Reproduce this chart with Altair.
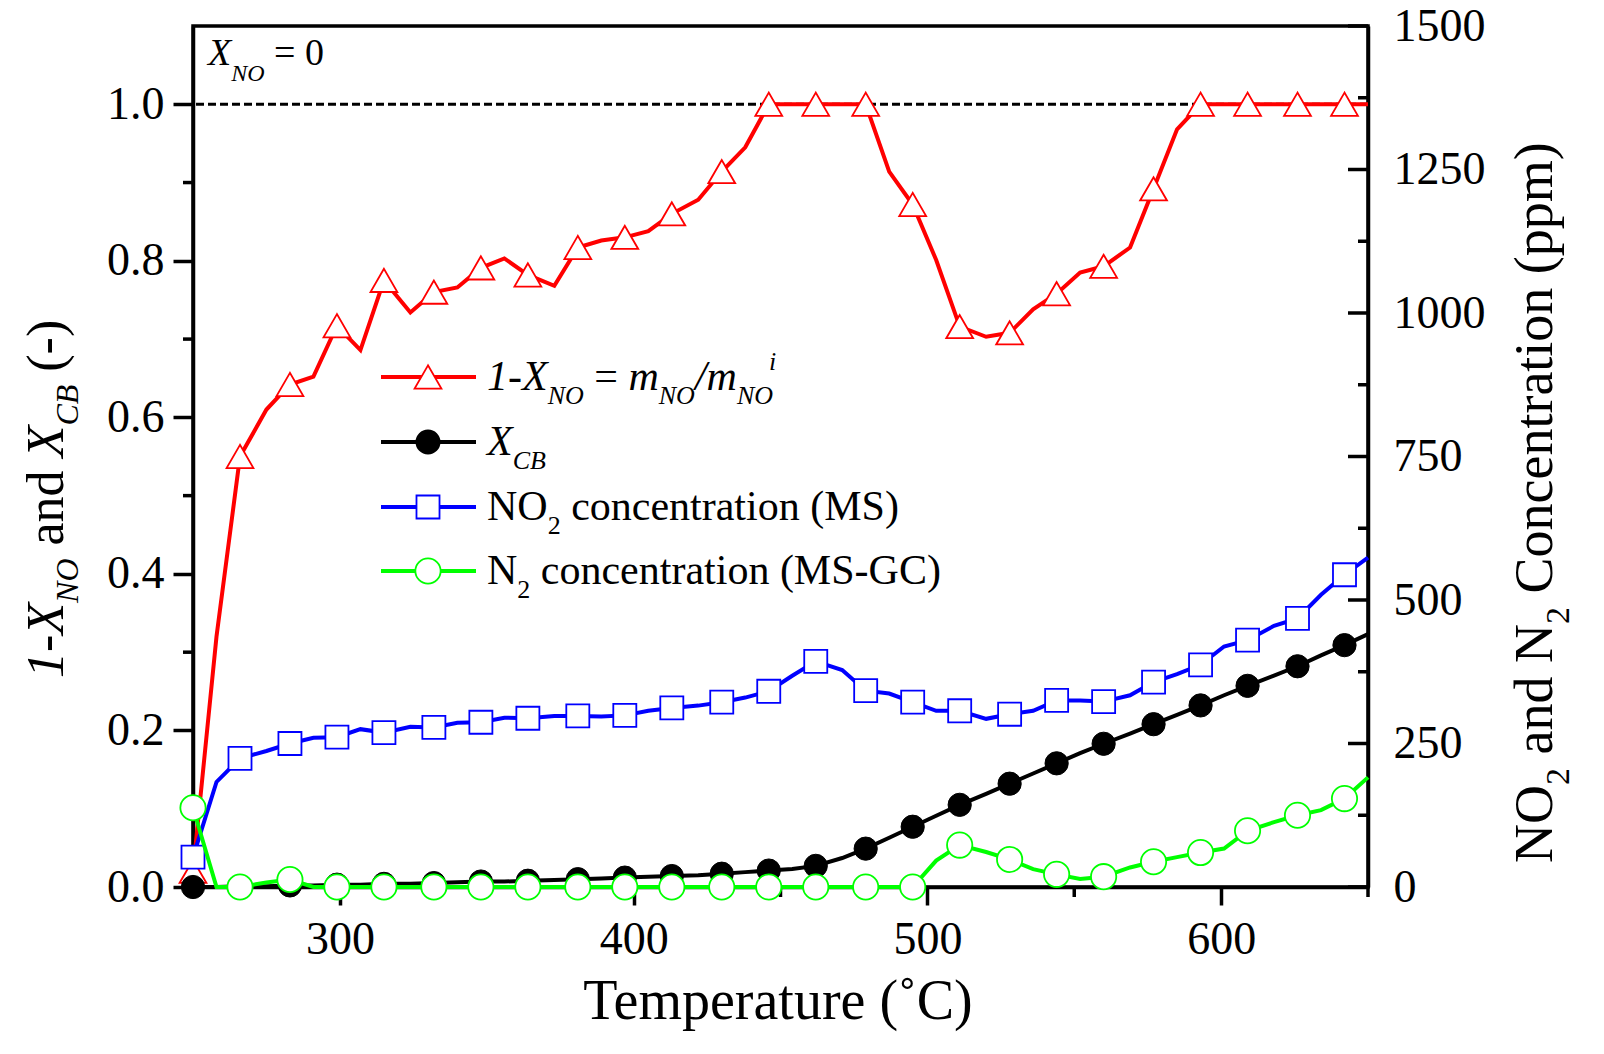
import altair as alt
import pandas as pd

# ---------------- data ----------------
temps = [250, 258, 266, 275, 283, 291, 299, 307, 315, 324, 332, 340, 348, 356, 364, 373,
         381, 389, 397, 405, 413, 422, 430, 438, 446, 454, 462, 471, 479, 487, 495, 503,
         511, 520, 528, 536, 544, 552, 560, 569, 577, 585, 593, 601, 609, 618, 626, 634,
         642, 650]
one_minus_xno = [0.02, 0.32, 0.55, 0.61, 0.642, 0.652, 0.717, 0.686, 0.775, 0.734, 0.760, 0.766,
                 0.791, 0.803, 0.782, 0.768, 0.817, 0.826, 0.830, 0.838, 0.860, 0.878, 0.914, 0.945,
                 1.0, 1.0, 1.0, 1.0, 1.0, 0.914, 0.872, 0.801, 0.716, 0.703, 0.708, 0.738,
                 0.758, 0.785, 0.793, 0.817, 0.892, 0.968, 1.0, 1.0, 1.0, 1.0, 1.0, 1.0,
                 1.0, 1.0]
x_cb = [0.000, 0.000, 0.001, 0.001, 0.002, 0.002, 0.003, 0.003, 0.004, 0.004, 0.005, 0.006,
        0.007, 0.007, 0.008, 0.009, 0.010, 0.011, 0.012, 0.013, 0.014, 0.015, 0.017, 0.019,
        0.021, 0.023, 0.027, 0.037, 0.049, 0.063, 0.077, 0.091, 0.105, 0.119, 0.132, 0.145,
        0.158, 0.171, 0.183, 0.196, 0.208, 0.220, 0.232, 0.245, 0.257, 0.270, 0.282, 0.296,
        0.309, 0.323]
no2_ppm = [52, 183, 224, 237, 250, 260, 261, 275, 269, 279, 278, 286, 287, 295, 294, 298,
           298, 297, 299, 307, 312, 316, 322, 330, 341, 368, 393, 378, 342, 337, 322, 307,
           307, 293, 301, 307, 325, 325, 323, 334, 357, 371, 387, 419, 430, 455, 468, 509,
           544, 574]
n2_ppm = [138, 0, 0, 8, 13, 0, 0, 0, 0, 0, 0, 0, 0, 0, 0, 0,
          0, 0, 0, 0, 0, 0, 0, 0, 0, 0, 0, 0, 0, 0, 0, 46,
          73, 61, 48, 31, 22, 14, 18, 34, 44, 52, 60, 67, 98, 113, 125, 134,
          154, 191]

x_major = [300, 400, 500, 600]
x_minor = [250, 350, 450, 550, 650]
yl_major = [0.0, 0.2, 0.4, 0.6, 0.8, 1.0]
yl_minor = [0.1, 0.3, 0.5, 0.7, 0.9]
yr_major = [0, 250, 500, 750, 1000, 1250, 1500]
yr_minor = [125, 375, 625, 875, 1125, 1375]

# ---------------- style ----------------
W, H = 1175, 861
FONT = "Liberation Serif"
RED, BLACK, BLUE, GREEN = "#ff0000", "#000000", "#0000ff", "#00ff00"
LW = 4.0
AXW = 3.5

df = pd.DataFrame({"T": temps, "r": one_minus_xno, "k": x_cb, "b": no2_ppm, "g": n2_ppm})
dfm = df.iloc[::2]
one = pd.DataFrame({"d": [0]})

xs = alt.Scale(domain=[250, 650], nice=False, zero=False)
xax = alt.Axis(values=x_major, format="d", tickSize=18, labelPadding=12, title=None,
               orient="bottom", labelOverlap=False)
yl = alt.Scale(domain=[0, 1.1], nice=False, zero=True)
ylax = alt.Axis(values=yl_major, format=".1f", tickSize=20, labelPadding=9, title=None,
                orient="left", labelOverlap=False)
yr = alt.Scale(domain=[0, 1500], nice=False, zero=True)
yrax = alt.Axis(values=yr_major, format="d", ticks=False, labelPadding=25, title=None,
                orient="right", labelOverlap=False)


def X(f="T"):
    return alt.X(f + ":Q", scale=xs, axis=xax)


def YL(f):
    return alt.Y(f + ":Q", scale=yl, axis=ylax)


def YR(f):
    return alt.Y(f + ":Q", scale=yr, axis=yrax)


# ---------------- left-scale group ----------------
xminor = alt.Chart(pd.DataFrame({"v": x_minor})).mark_rule(color=BLACK, strokeWidth=AXW).encode(
    x=X("v"), y=alt.value(H), y2=alt.value(H + 10))
lminor = alt.Chart(pd.DataFrame({"v": yl_minor})).mark_rule(color=BLACK, strokeWidth=AXW).encode(
    y=YL("v"), x=alt.value(-10), x2=alt.value(0))
dashed = alt.Chart(pd.DataFrame({"v": [1.0]})).mark_rule(
    color=BLACK, strokeWidth=3, strokeDash=[8, 4]).encode(y=YL("v"))

red_line = alt.Chart(df).mark_line(color=RED, strokeWidth=LW).encode(x=X(), y=YL("r"))
red_pts = alt.Chart(dfm).mark_point(shape="triangle-up", size=720, filled=True, fill="white",
                                    stroke=RED, strokeWidth=1.8, opacity=1).encode(x=X(), y=YL("r"))
blk_line = alt.Chart(df).mark_line(color=BLACK, strokeWidth=LW).encode(x=X(), y=YL("k"))
blk_pts = alt.Chart(dfm).mark_point(shape="circle", size=540, filled=True, fill=BLACK,
                                    stroke=BLACK, strokeWidth=1, opacity=1).encode(x=X(), y=YL("k"))

left = alt.layer(xminor, lminor, dashed, red_line, red_pts, blk_line, blk_pts)

# ---------------- right-scale group ----------------
rmajor = alt.Chart(pd.DataFrame({"v": yr_major})).mark_rule(color=BLACK, strokeWidth=AXW).encode(
    y=YR("v"), x=alt.value(W - 20), x2=alt.value(W))
rminor = alt.Chart(pd.DataFrame({"v": yr_minor})).mark_rule(color=BLACK, strokeWidth=AXW).encode(
    y=YR("v"), x=alt.value(W - 10), x2=alt.value(W))
blu_line = alt.Chart(df).mark_line(color=BLUE, strokeWidth=LW).encode(x=X(), y=YR("b"))
blu_pts = alt.Chart(dfm).mark_point(shape="square", size=530, filled=True, fill="white",
                                    stroke=BLUE, strokeWidth=1.8, opacity=1).encode(x=X(), y=YR("b"))
grn_line = alt.Chart(df).mark_line(color=GREEN, strokeWidth=LW).encode(x=X(), y=YR("g"))
grn_pts = alt.Chart(dfm).mark_point(shape="circle", size=640, filled=True, fill="white",
                                    stroke=GREEN, strokeWidth=1.8, opacity=1).encode(x=X(), y=YR("g"))

right = alt.layer(rmajor, rminor, blu_line, blu_pts, grn_line, grn_pts)

# ---------------- rich text helpers ----------------
REG = {' ': 250, '(': 333, ')': 333, '-': 333, '.': 250, '/': 278, '=': 564, 'A': 722, 'B': 667,
       'C': 667, 'G': 722, 'M': 889, 'N': 722, 'O': 722, 'S': 556, 'T': 611, 'X': 722, 'a': 444,
       'c': 444, 'd': 500, 'e': 444, 'i': 278, 'm': 778, 'n': 500, 'o': 500, 'p': 500, 'r': 333,
       't': 278, 'u': 500, '\u02da': 333, '\u00b0': 400}
ITA = {' ': 250, '1': 500, '-': 333, 'X': 611, 'N': 667, 'O': 722, 'C': 667, 'B': 611, 'm': 722,
       'i': 278, '/': 278, '=': 675}


def tw(s, size, italic):
    tbl = ITA if italic else REG
    return sum(tbl.get(c, 500) for c in s) / 1000.0 * size


def compose(segs, x0, y0, angle=0):
    """segs: (text, size, italic, shift, back)"""
    layers = []
    cum = 0.0
    for seg in segs:
        t, size, ital, shift = seg[:4]
        back = seg[4] if len(seg) > 4 else 0
        lead = len(t) - len(t.lstrip(" "))
        start = cum - back + tw(" " * lead, size, ital)
        txt = t.strip(" ")
        if angle == 0:
            px, py = x0 + start, y0 + shift
        else:
            px, py = x0 + shift, y0 - start
        layers.append(
            alt.Chart(one).mark_text(
                text=txt, font=FONT, fontSize=size, fontStyle="italic" if ital else "normal",
                align="left", baseline="alphabetic", angle=angle, color=BLACK
            ).encode(x=alt.value(px), y=alt.value(py))
        )
        cum = cum - back + tw(t, size, ital)
    return layers


texts = []
# top-left annotation
texts += compose([("X", 38, True, 0), ("NO", 24, True, 16), (" = 0", 38, False, 0)], 15, 39)
# x title
xt = "Temperature (\u02daC)"
texts += compose([(xt, 56, False, 0)], 587 - tw(xt, 56, False) / 2, 993)
# left title
texts += compose([("1-X", 52, True, 0), ("NO", 32, True, 15), (" and ", 52, False, 0),
                  ("X", 52, True, 0), ("CB", 32, True, 15), (" (-)", 52, False, 0)],
                 -130, 652, angle=270)
# right title
texts += compose([("NO", 54, False, 0), ("2", 34, False, 17), (" and N", 54, False, 0),
                  ("2", 34, False, 17), (" Concentration (ppm)", 54, False, 0)],
                 1359, 837, angle=270)

# legend
rows = [351, 416, 481, 545]
LX1, LX2, LM, LT = 188, 283, 235, 294
leg_style = [
    (RED, "triangle-up", 720, "white"),
    (BLACK, "circle", 540, BLACK),
    (BLUE, "square", 530, "white"),
    (GREEN, "circle", 640, "white"),
]
legend = []
for ry, (col, shp, sz, fil) in zip(rows, leg_style):
    legend.append(alt.Chart(one).mark_rule(color=col, strokeWidth=LW).encode(
        x=alt.value(LX1), x2=alt.value(LX2), y=alt.value(ry)))
    legend.append(alt.Chart(one).mark_point(shape=shp, size=sz, filled=True, fill=fil, stroke=col,
                                            strokeWidth=1.8, opacity=1).encode(
        x=alt.value(LM), y=alt.value(ry)))

legend += compose([("1-X", 42, True, 0), ("NO", 26, True, 14), (" = ", 42, False, 0),
                   ("m", 42, True, 0), ("NO", 26, True, 14), ("/", 42, True, 0),
                   ("m", 42, True, 0), ("NO", 26, True, 14), ("i", 26, True, -20, 4)],
                  LT, rows[0] + 13)
legend += compose([("X", 42, True, 0), ("CB", 26, True, 14)], LT, rows[1] + 13)
legend += compose([("NO", 42, False, 0), ("2", 26, False, 14),
                   (" concentration (MS)", 42, False, 0)], LT, rows[2] + 13)
legend += compose([("N", 42, False, 0), ("2", 26, False, 14),
                   (" concentration (MS-GC)", 42, False, 0)], LT, rows[3] + 13)

chart = alt.layer(left, right, *legend, *texts).resolve_scale(y="independent").properties(
    width=W, height=H,
    autosize=alt.AutoSizeParams(type="none"),
    padding={"left": 185, "top": 18, "right": 228, "bottom": 150},
).configure_view(stroke=BLACK, strokeWidth=AXW).configure_axis(
    labelFont=FONT, labelFontSize=46, labelColor=BLACK, domainColor=BLACK, domainWidth=AXW,
    tickColor=BLACK, tickWidth=AXW, grid=False
)

chart.save("out.html", embed_options={"renderer": "svg", "actions": False})
